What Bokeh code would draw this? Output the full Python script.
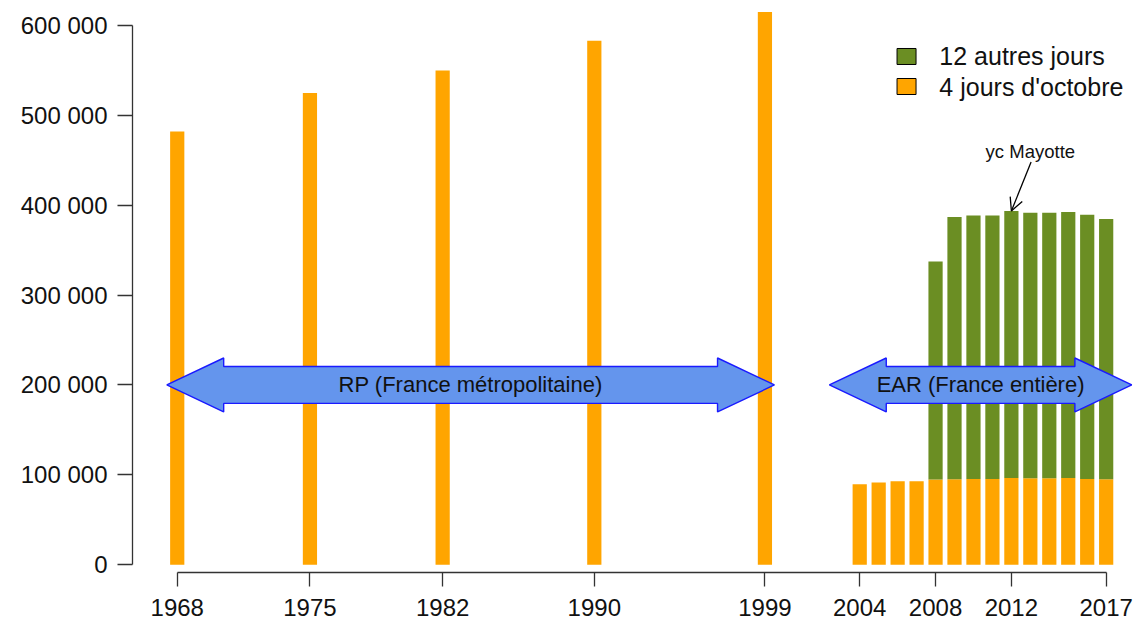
from bokeh.plotting import figure
from bokeh.models import Range1d, FixedTicker, Arrow, OpenHead
from bokeh.core.properties import value
from bokeh.embed import file_html
from bokeh.resources import INLINE

# ---- data ----
rp_years = [1968, 1975, 1982, 1990, 1999]
rp_values = [482000, 525000, 550000, 583000, 615000]

ear_years = [2004, 2005, 2006, 2007, 2008, 2009, 2010, 2011, 2012, 2013, 2014, 2015, 2016, 2017]
ear_october = [89500, 91400, 92900, 92900, 94800, 95100, 95400, 95400, 96500, 96200, 96200, 96500, 95400, 95100]
ear_other = [0, 0, 0, 0, 242700, 291700, 293300, 293300, 297000, 295500, 295500, 295900, 294100, 289500]

series_names = ["12 autres jours", "4 jours d'octobre"]
x_ticks = [1968, 1975, 1982, 1990, 1999, 2004, 2008, 2012, 2017]
y_ticks = [0, 100000, 200000, 300000, 400000, 500000, 600000]
y_tick_labels = ["0", "100 000", "200 000", "300 000", "400 000", "500 000", "600 000"]

periods = ["RP (France métropolitaine)", "EAR (France entière)"]
period_spans = [(1968, 1999), (2004, 2017)]
note_text = "yc Mayotte"
note_year = 2012

ORANGE = "#FFA500"
GREEN = "#6B8E23"
FONT = "Liberation Sans"

p = figure(width=1136, height=627, output_backend="svg", toolbar_location=None,
           x_range=Range1d(1965.64, 2018.6), y_range=Range1d(-8670, 627800),
           min_border_left=132, min_border_right=0, min_border_top=0, min_border_bottom=55)
p.outline_line_color = None
p.xgrid.visible = False
p.ygrid.visible = False
p.background_fill_color = "white"

# bars
p.vbar(x=rp_years, top=rp_values, width=0.75, fill_color=ORANGE, line_color=None)
p.vbar(x=ear_years, top=ear_october, width=0.75, fill_color=ORANGE, line_color=None)
stk_x = [y for y, o in zip(ear_years, ear_other) if o > 0]
stk_b = [b for b, o in zip(ear_october, ear_other) if o > 0]
stk_t = [b + o for b, o in zip(ear_october, ear_other) if o > 0]
p.vbar(x=stk_x, bottom=stk_b, top=stk_t, width=0.75, fill_color=GREEN, line_color=None)

# double arrows
def double_arrow(x0, x3, yc, head=3.0, half_shaft=20500, half_head=30000):
    x1, x2 = x0 + head, x3 - head
    xs = [x0, x1, x1, x2, x2, x3, x2, x2, x1, x1]
    ys = [yc, yc + half_head, yc + half_shaft, yc + half_shaft, yc + half_head,
          yc, yc - half_head, yc - half_shaft, yc - half_shaft, yc - half_head]
    return xs, ys

pads = [(-0.55, 0.5), (-1.6, 1.35)]
for (a, b), (pl, pr), label in zip(period_spans, pads, periods):
    xs, ys = double_arrow(a + pl, b + pr, 200000)
    p.patch(xs, ys, fill_color="#6495ED", line_color="#1a1aff", line_width=1.4)
    p.text(x=[(a + pl + b + pr) / 2], y=[200000], text=[label], text_align="center",
           text_baseline="middle", text_font=value(FONT), text_font_size="22px",
           text_color="#111111")

# yc Mayotte note
i12 = ear_years.index(note_year)
top12 = ear_october[i12] + ear_other[i12]
p.add_layout(Arrow(end=OpenHead(size=13, line_color="black", line_width=1.3),
                   x_start=note_year + 1.04, y_start=top12 + 54500,
                   x_end=note_year, y_end=top12, line_color="black", line_width=1.3))
p.text(x=[note_year + 1.0], y=[top12 + 66000], text=[note_text], text_align="center",
       text_baseline="middle", text_font=value(FONT), text_font_size="18.5px",
       text_color="#111111")

# legend (manual)
p.rect(x=[2006.47, 2006.47], y=[565500, 532100], width=19, height=16,
       width_units="screen", height_units="screen",
       fill_color=[GREEN, ORANGE], line_color="black", line_width=1)
p.text(x=[2008.2, 2008.2], y=[565500, 532100], text=series_names, text_align="left",
       text_baseline="middle", text_font=value(FONT), text_font_size="25px",
       text_color="#111111")

# axes
for ax in (p.xaxis[0], p.yaxis[0]):
    ax.axis_line_color = "#333333"
    ax.axis_line_width = 1.3
    ax.major_tick_line_color = "#333333"
    ax.major_tick_line_width = 1.3
    ax.major_tick_in = 0
    ax.minor_tick_line_color = None
    ax.major_label_text_font = FONT
    ax.major_label_text_font_size = "24px"
    ax.major_label_text_color = "#111111"

p.yaxis.ticker = FixedTicker(ticks=y_ticks)
p.yaxis.major_label_overrides = {t: s for t, s in zip(y_ticks, y_tick_labels)}
p.yaxis.bounds = (y_ticks[0], y_ticks[-1])
p.yaxis.major_tick_out = 15
p.yaxis.major_label_standoff = 10

p.xaxis.ticker = FixedTicker(ticks=x_ticks)
p.xaxis.major_label_overrides = {t: str(t) for t in x_ticks}
p.xaxis.bounds = (x_ticks[0], x_ticks[-1])
p.xaxis.major_tick_out = 14
p.xaxis.major_label_standoff = 12

open("out.html", "w").write(file_html(p, INLINE))
